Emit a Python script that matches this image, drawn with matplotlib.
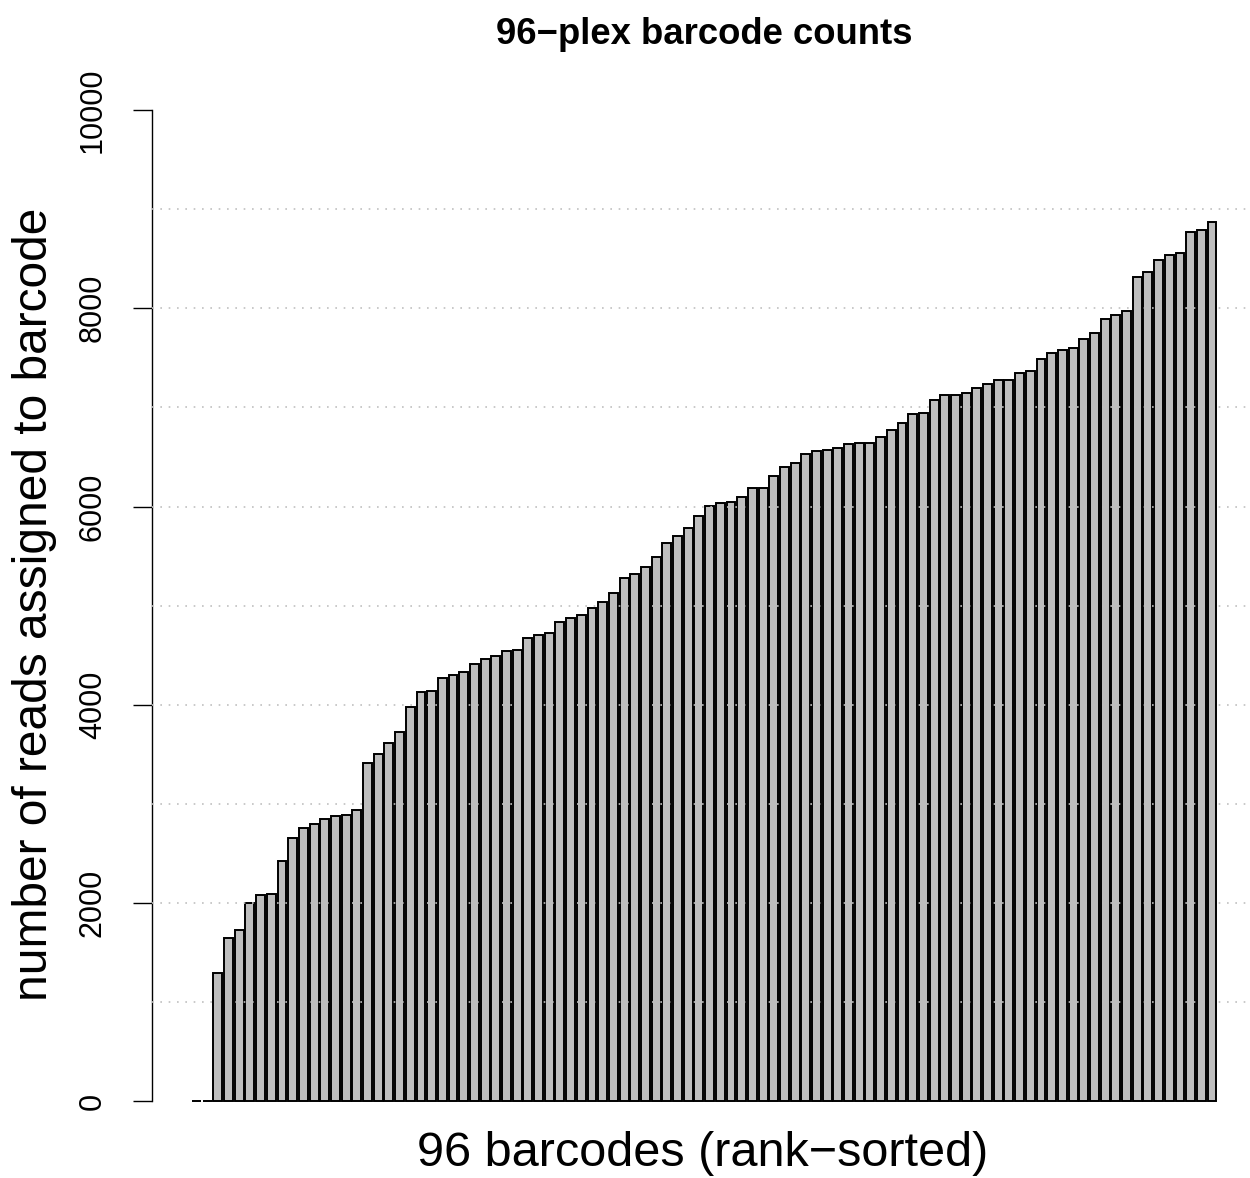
import numpy as np
import matplotlib
matplotlib.use("Agg")
import matplotlib.pyplot as plt

# ── Read counts per barcode, already rank-sorted (ascending) ──────────────────
ranks = np.arange(1, 97)
counts = [
    0, 0, 1300, 1650, 1730, 2000, 2080, 2090, 2430, 2660,
    2760, 2795, 2850, 2880, 2885, 2935, 3410, 3505, 3615, 3730,
    3975, 4130, 4140, 4275, 4300, 4330, 4410, 4465, 4495, 4545,
    4555, 4670, 4710, 4730, 4840, 4880, 4905, 4975, 5040, 5125,
    5275, 5320, 5390, 5495, 5630, 5700, 5780, 5905, 6005, 6035,
    6050, 6100, 6185, 6190, 6310, 6400, 6435, 6535, 6565, 6575,
    6595, 6635, 6645, 6645, 6700, 6770, 6840, 6935, 6945, 7080,
    7130, 7130, 7145, 7200, 7240, 7275, 7275, 7345, 7365, 7490,
    7545, 7575, 7595, 7690, 7755, 7895, 7935, 7975, 8315, 8370,
    8485, 8535, 8555, 8770, 8785, 8875,
]
ytick_vals = [0, 2000, 4000, 6000, 8000, 10000]
grid_vals = [1000, 2000, 3000, 4000, 5000, 6000, 7000, 8000, 9000]

plt.rcParams.update({
    "font.family": ["Liberation Sans", "DejaVu Sans"],
})

W, H = 1250, 1178
fig = plt.figure(figsize=(W / 100, H / 100), dpi=100)
ax = fig.add_axes([152 / W, 1 - 1120 / H, (1258 - 152) / W, 1030 / H])

# barplot-like layout: unit pitch, bar width 1/1.2 (space = 0.2)
xpos = ranks - 1
ax.bar(xpos, counts, width=1 / 1.2, color="#bebebe", edgecolor="black",
       linewidth=1.4, zorder=2)

for g in grid_vals:
    ax.axhline(g, color="#c0c0c0", linewidth=1.2, linestyle=(0, (1, 4)),
               zorder=3)

ax.set_xlim(-4.16, 99.3)
ax.set_ylim(-186.6, 10201.7)

for s in ["top", "right", "bottom"]:
    ax.spines[s].set_visible(False)
ax.spines["left"].set_bounds(0, 10000)
ax.spines["left"].set_linewidth(1.0)

ax.set_xticks([])
ax.set_yticks(ytick_vals)
ax.set_yticklabels([str(v) for v in ytick_vals])
ax.tick_params(axis="y", direction="out", length=13.7, width=1.0,
               pad=18, labelsize=22)
plt.setp(ax.get_yticklabels(), rotation=90, va="center")

fig.text(35 / W, 1 - 604 / H, "number of reads assigned to barcode",
         rotation=90, ha="center", va="center", fontsize=34.5)
fig.text(703 / W, 1 - 1153 / H, "96 barcodes (rank\u2212sorted)",
         ha="center", va="center", fontsize=35)
fig.text(704 / W, 1 - 34 / H, "96\u2212plex barcode counts",
         ha="center", va="center", fontsize=26.3, fontweight="bold")

plt.savefig("out.png", dpi=100)
plt.close()
